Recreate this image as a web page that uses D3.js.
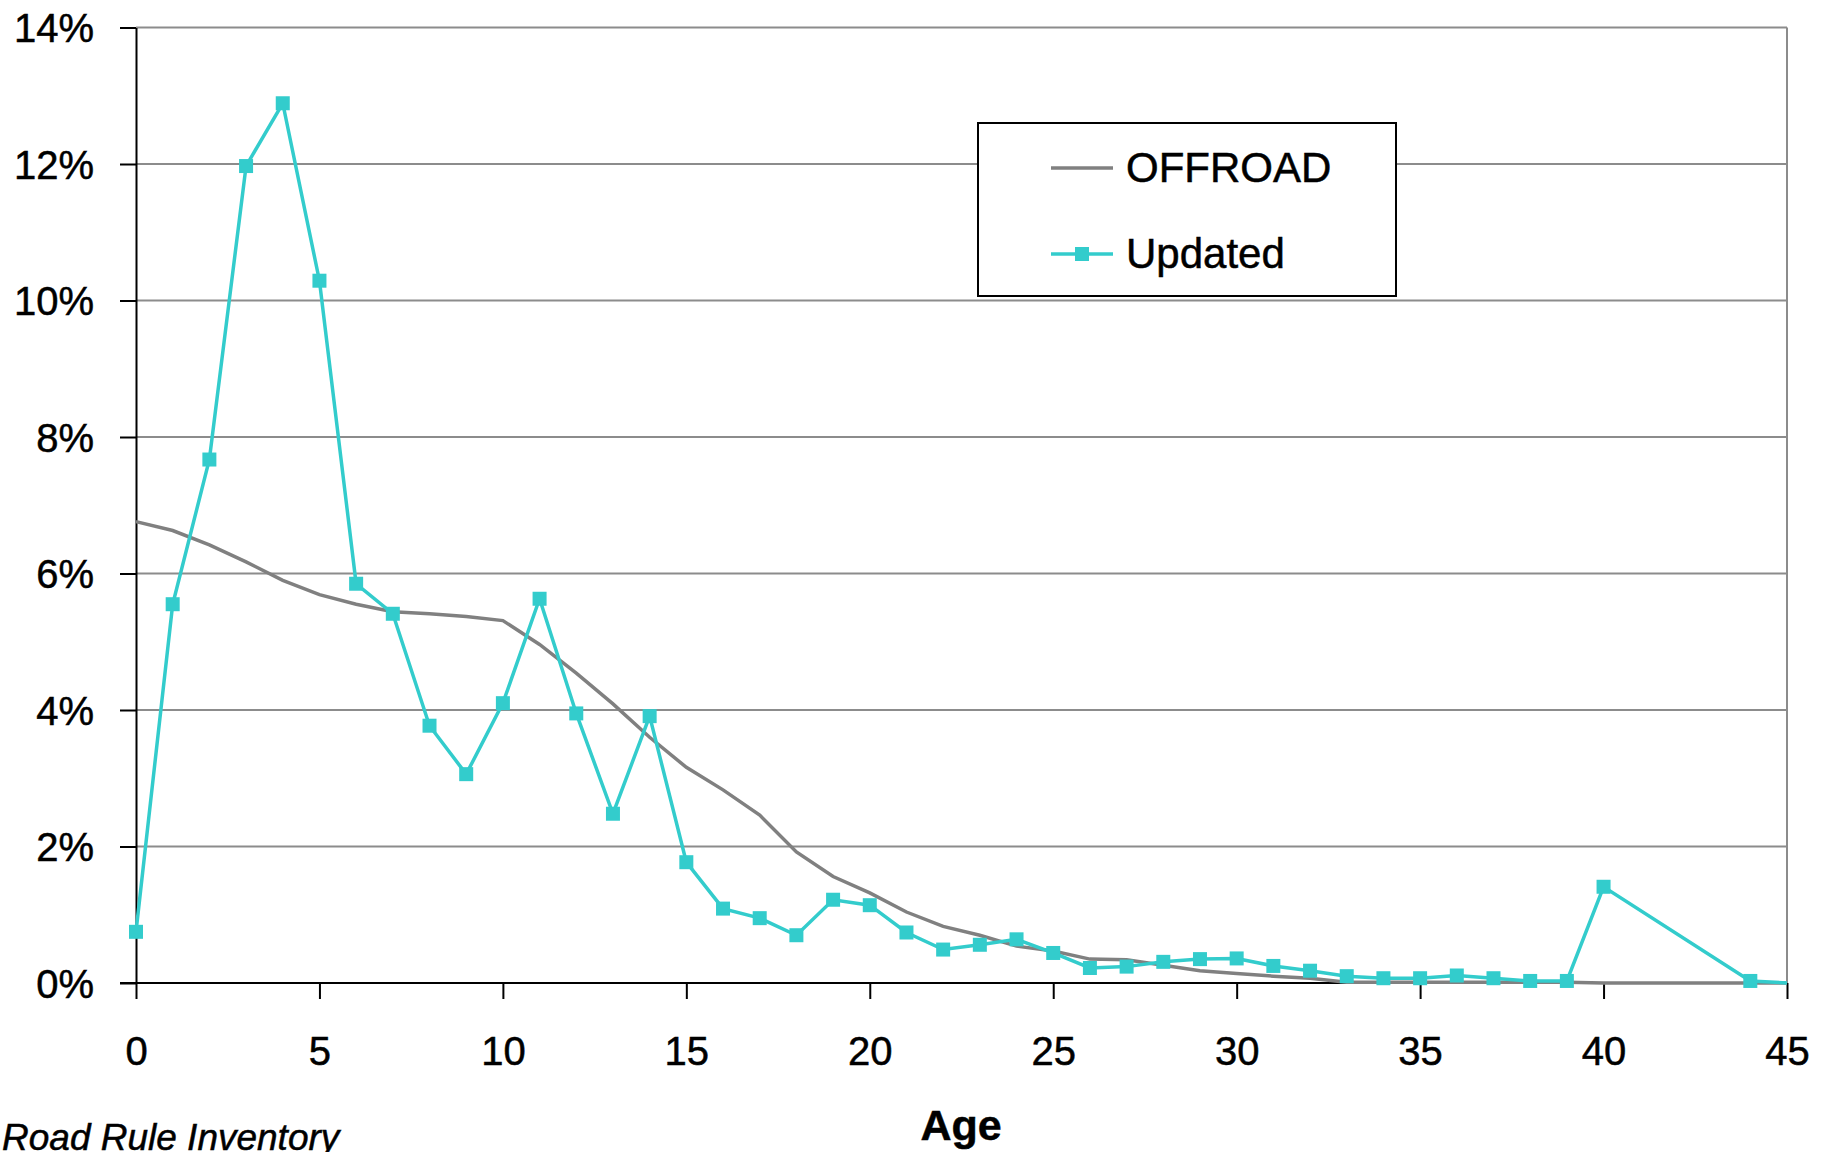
<!DOCTYPE html>
<html>
<head>
<meta charset="utf-8">
<script src="https://cdn.jsdelivr.net/npm/d3@7"></script>
<style>
  html, body { margin: 0; padding: 0; background: #fff; }
  svg { display: block; font-family: 'Liberation Sans', Arial, sans-serif; }
  text { stroke: #000; stroke-width: 0.5px; }
</style>
</head>
<body>
<div id="chart"></div>
<script>
// ages 0..45 for the OFFROAD curve (percent)
const offroadAges = d3.range(0, 46)
const offroad = [6.76, 6.63, 6.42, 6.17, 5.90, 5.69, 5.55, 5.44, 5.41, 5.37,
  5.31, 4.96, 4.54, 4.09, 3.60, 3.16, 2.83, 2.46, 1.92, 1.56,
  1.32, 1.04, 0.83, 0.70, 0.54, 0.47, 0.35, 0.34, 0.26, 0.18,
  0.14, 0.10, 0.07, 0.01, 0.01, 0.01, 0.01, 0.01, 0.01, 0.01,
  0, 0, 0, 0, 0, 0]

// Updated series has no points between 41 and 43
const updatedAges = d3.range(0, 41).concat([44, 45])
const updated = [0.75, 5.55, 7.67, 11.97, 12.89, 10.29, 5.85, 5.41, 3.77, 3.06,
  4.10, 5.63, 3.95, 2.48, 3.91, 1.77, 1.09, 0.95, 0.70, 1.22,
  1.14, 0.74, 0.49, 0.56, 0.64, 0.44, 0.22, 0.24, 0.31, 0.35,
  0.36, 0.25, 0.18, 0.10, 0.07, 0.07, 0.11, 0.07, 0.03, 0.03,
  1.41, 0.03, 0]

const yTicks = [0, 2, 4, 6, 8, 10, 12, 14]
const xTicks = [0, 5, 10, 15, 20, 25, 30, 35, 40, 45]
const seriesNames = ['OFFROAD', 'Updated']

const W = 1828
const H = 1152
const plotLeft = 136
const plotRight = 1787
const plotTop = 27.5
const plotBottom = 983
const cyan = '#33cccc'
const grey = '#808080'

const svg = d3.select('#chart')
  .append('svg')
  .attr('width', W)
  .attr('height', H)

const x = d3.scaleLinear().domain([0, 45]).range([plotLeft, plotRight])
const y = d3.scaleLinear().domain([0, 14]).range([plotBottom, plotTop])

// gridlines
svg.append('g')
  .selectAll('line')
  .data(yTicks.filter(d => d > 0))
  .enter()
  .append('line')
  .attr('x1', plotLeft)
  .attr('x2', plotRight)
  .attr('y1', d => y(d))
  .attr('y2', d => y(d))
  .style('stroke', '#8c8c8c')
  .style('stroke-width', 2)

// right border of plot area
svg.append('line')
  .attr('x1', plotRight).attr('x2', plotRight)
  .attr('y1', plotTop).attr('y2', plotBottom)
  .style('stroke', '#8c8c8c')
  .style('stroke-width', 2)

// y axis
const yAxis = svg.append('g')
  .attr('transform', `translate(${plotLeft},0)`)
  .call(d3.axisLeft(y).tickValues(yTicks).tickSize(16).tickPadding(26)
    .tickSizeOuter(0).tickFormat(d => d + '%'))
yAxis.select('.domain').attr('stroke', '#000').attr('stroke-width', 2)
yAxis.selectAll('.tick line').attr('stroke', '#000').attr('stroke-width', 2)
yAxis.selectAll('.tick text')
  .attr('font-size', 40)
  .attr('font-family', "'Liberation Sans', Arial, sans-serif")
  .attr('fill', '#000')
  .attr('dy', '0.36em')

// x axis
const xAxis = svg.append('g')
  .attr('transform', `translate(0,${plotBottom})`)
  .call(d3.axisBottom(x).tickValues(xTicks).tickSize(16).tickSizeOuter(0))
xAxis.select('.domain').attr('stroke', '#000').attr('stroke-width', 2)
  .attr('d', `M${plotLeft - 16},0H${plotRight}`)
xAxis.selectAll('.tick line').attr('stroke', '#000').attr('stroke-width', 2)
xAxis.selectAll('.tick text')
  .attr('font-size', 40)
  .attr('font-family', "'Liberation Sans', Arial, sans-serif")
  .attr('fill', '#000')
  .attr('y', 82)
  .attr('dy', 0)

// OFFROAD line
const lineGen = d3.line()
  .x(d => x(d[0]))
  .y(d => y(d[1]))

svg.append('path')
  .datum(d3.zip(offroadAges, offroad))
  .attr('d', lineGen)
  .style('fill', 'none')
  .style('stroke', grey)
  .style('stroke-width', 3.5)

// Updated line + markers
const upd = d3.zip(updatedAges, updated)
svg.append('path')
  .datum(upd)
  .attr('d', lineGen)
  .style('fill', 'none')
  .style('stroke', cyan)
  .style('stroke-width', 3.5)

const ms = 14
svg.append('g')
  .selectAll('rect')
  .data(upd.filter(d => d[0] < 45))
  .enter()
  .append('rect')
  .attr('x', d => x(d[0]) - ms / 2)
  .attr('y', d => y(d[1]) - ms / 2)
  .attr('width', ms)
  .attr('height', ms)
  .style('fill', cyan)

// legend
const lg = svg.append('g')
lg.append('rect')
  .attr('x', 978).attr('y', 123)
  .attr('width', 418).attr('height', 173)
  .style('fill', '#fff')
  .style('stroke', '#000')
  .style('stroke-width', 2)

const legendRows = [
  { name: seriesNames[0], color: grey, marker: false, y: 168 },
  { name: seriesNames[1], color: cyan, marker: true, y: 254 }
]
legendRows.forEach(r => {
  lg.append('line')
    .attr('x1', 1051).attr('x2', 1113)
    .attr('y1', r.y).attr('y2', r.y)
    .style('stroke', r.color)
    .style('stroke-width', 3.5)
  if (r.marker) {
    lg.append('rect')
      .attr('x', 1082 - ms / 2).attr('y', r.y - ms / 2)
      .attr('width', ms).attr('height', ms)
      .style('fill', r.color)
  }
  lg.append('text')
    .attr('x', 1126)
    .attr('y', r.y + 14)
    .attr('font-size', 42)
    .attr('fill', '#000')
    .text(r.name)
})

// axis title
svg.append('text')
  .attr('x', 961)
  .attr('y', 1140)
  .attr('text-anchor', 'middle')
  .attr('font-size', 43)
  .attr('font-weight', 'bold')
  .text('Age')

// source note (runs off the bottom edge as in the original)
svg.append('text')
  .attr('x', 2)
  .attr('y', 1150)
  .attr('font-size', 37)
  .attr('font-style', 'italic')
  .text('Road Rule Inventory')
</script>
</body>
</html>
